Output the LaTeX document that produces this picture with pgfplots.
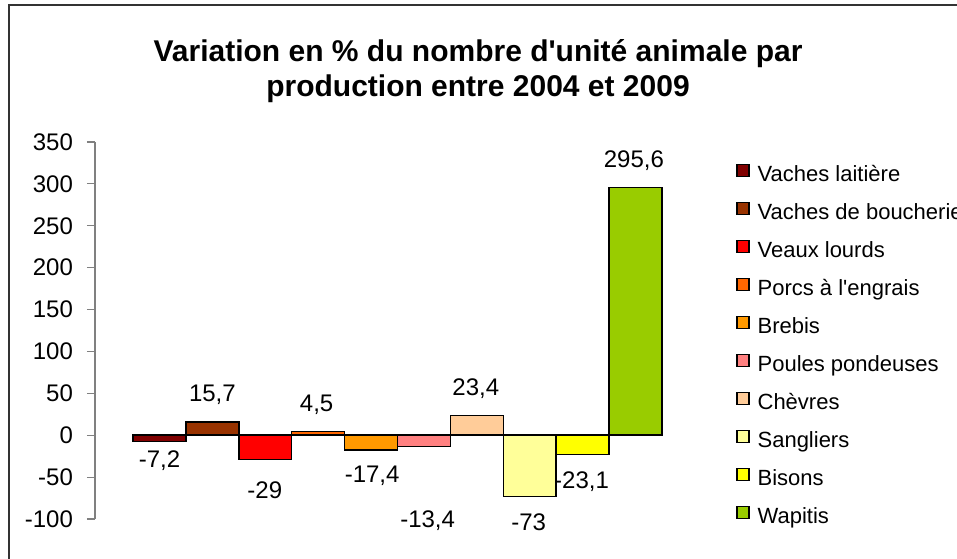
\documentclass[border=0pt]{standalone}
\usepackage{pgfplots}
\pgfplotsset{compat=1.18}
\usepackage{fontspec}
\setmainfont{Liberation Sans}
\definecolor{c1}{HTML}{800000}
\definecolor{c2}{HTML}{993300}
\definecolor{c3}{HTML}{FF0000}
\definecolor{c4}{HTML}{FF6600}
\definecolor{c5}{HTML}{FF9900}
\definecolor{c6}{HTML}{FF8080}
\definecolor{c7}{HTML}{FFCC99}
\definecolor{c8}{HTML}{FFFF99}
\definecolor{c9}{HTML}{FFFF00}
\definecolor{c10}{HTML}{99CC00}
\definecolor{framegray}{HTML}{333333}
\definecolor{axgray}{HTML}{808080}
\begin{document}
\begin{tikzpicture}
\path[use as bounding box] (0pt,0pt) rectangle (478.5pt,279pt);
\draw[framegray, line width=1pt] (4.25pt,-2pt) -- (4.25pt,276.25pt) -- (480pt,276.25pt);
\node[anchor=base, font=\fontsize{15}{18}\selectfont\bfseries] at (239pt,248pt) {Variation en \% du nombre d\textquotesingle unité animale par};
\node[anchor=base, font=\fontsize{15}{18}\selectfont\bfseries] at (239pt,230.5pt) {production entre 2004 et 2009};
\begin{axis}[
  at={(47.5pt,19.5pt)}, anchor=south west,
  scale only axis, width=302.5pt, height=188.5pt,
  xmin=-1.22, xmax=10.22, ymin=-100, ymax=350,
  axis x line=none,
  axis y line*=left,
  y axis line style={draw=axgray, line width=0.6pt, -},
  ytick={-100,-50,0,50,100,150,200,250,300,350},
  tick align=outside, major tick length=4pt,
  ytick style={draw=axgray, line width=0.6pt},
  yticklabel style={font=\fontsize{12}{14}\selectfont, xshift=-3.5pt},
  /pgf/number format/assume math mode=true,
  clip=false,
  every axis plot/.append style={ybar, bar width=1, bar shift=0pt, draw=black, line width=0.75pt},
  legend style={at={(1.0496,0.9536)}, anchor=north west, draw=none, fill=none,
    font=\fontsize{11}{13}\selectfont, row sep=8.45pt,
    nodes={text height=7.5pt, text depth=2pt, inner sep=0pt}},
  legend cell align=left,
  legend image code/.code={\draw[#1, draw=black, line width=0.6pt] (0pt,-0.5pt) rectangle (6pt,5.5pt);},
]
\addplot[fill=c1] coordinates {(0,-7.2)};
\addlegendentry{\hspace{4pt}Vaches laitière}
\addplot[fill=c2] coordinates {(1,15.7)};
\addlegendentry{\hspace{4pt}Vaches de boucherie}
\addplot[fill=c3] coordinates {(2,-29)};
\addlegendentry{\hspace{4pt}Veaux lourds}
\addplot[fill=c4] coordinates {(3,4.5)};
\addlegendentry{\hspace{4pt}Porcs à l\textquotesingle engrais}
\addplot[fill=c5] coordinates {(4,-17.4)};
\addlegendentry{\hspace{4pt}Brebis}
\addplot[fill=c6] coordinates {(5,-13.4)};
\addlegendentry{\hspace{4pt}Poules pondeuses}
\addplot[fill=c7] coordinates {(6,23.4)};
\addlegendentry{\hspace{4pt}Chèvres}
\addplot[fill=c8] coordinates {(7,-73)};
\addlegendentry{\hspace{4pt}Sangliers}
\addplot[fill=c9] coordinates {(8,-23.1)};
\addlegendentry{\hspace{4pt}Bisons}
\addplot[fill=c10] coordinates {(9,295.6)};
\addlegendentry{\hspace{4pt}Wapitis}
\begin{scope}[every node/.style={anchor=base, font=\fontsize{12}{14}\selectfont}]
\node at (axis cs:0,-38) {-7,2};
\node at (axis cs:1,40.8) {15,7};
\node at (axis cs:1.99,-75) {-29};
\node at (axis cs:2.97,28.9) {4,5};
\node at (axis cs:4.02,-57) {-17,4};
\node at (axis cs:5.07,-109.6) {-13,4};
\node at (axis cs:5.98,47.9) {23,4};
\node at (axis cs:6.98,-114.3) {-73};
\node at (axis cs:7.98,-63) {-23,1};
\node at (axis cs:8.97,320) {295,6};
\end{scope}
\end{axis}
\end{tikzpicture}
\end{document}
